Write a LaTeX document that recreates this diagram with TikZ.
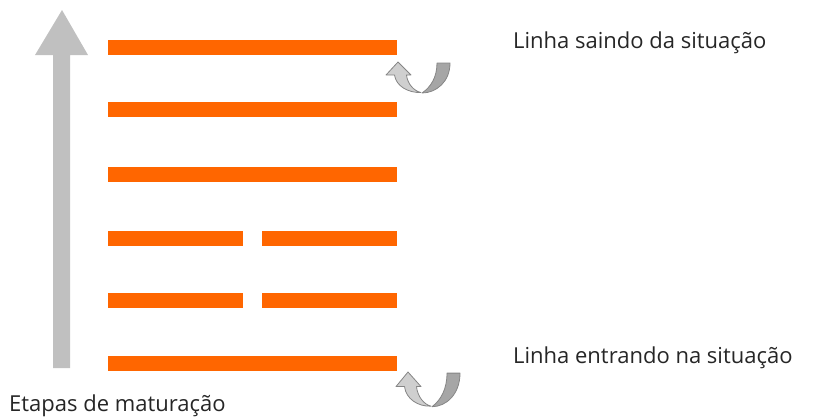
\documentclass[tikz,border=0pt]{standalone}
\usepackage{fontspec}
\setmainfont{Open Sans}
\definecolor{barorange}{HTML}{FF6600}
\definecolor{biggray}{HTML}{C0C0C0}
\definecolor{ulight}{HTML}{CFCFCF}
\definecolor{udark}{HTML}{A6A6A6}
\definecolor{uedge}{HTML}{858585}
\begin{document}
\begin{tikzpicture}[x=1pt,y=-1pt,
  bar/.style={fill=barorange,draw=none,inner sep=0,minimum height=15pt,anchor=west},
  longbar/.style={bar,minimum width=289pt},
  halfbar/.style={bar,minimum width=135pt},
  label/.style={inner sep=0,anchor=base west,font=\fontsize{22}{26}\selectfont,text=black!85},
  uturn/.pic={
    \fill[udark,draw=uedge,line width=0.8pt,line join=round]
      (51,1) -- (64,1) .. controls (64,20) and (50,31) .. (36,31)
      .. controls (45,25) and (51,15) .. (51,1) -- cycle;
    \fill[ulight,draw=uedge,line width=0.8pt,line join=round]
      (0,13) -- (12,0) -- (25,13) -- (20.5,13)
      .. controls (21.5,22) and (28,29) .. (35,30.5)
      .. controls (22,31) and (10,24) .. (8.5,13) -- cycle;
  }]
\useasboundingbox (0,0) rectangle (814,418);
% big arrow
\fill[biggray] (53,368) -- (53,55) -- (35,55) -- (62,10) -- (88,55) -- (70,55) -- (70,368) -- cycle;
% bars
\node[longbar] (b6) at (108,47.5) {};
\node[longbar] (b5) at (108,109.5) {};
\node[longbar] (b4) at (108,174.5) {};
\node[halfbar] (b3l) at (108,238) {};
\node[halfbar] (b3r) at (262,238) {};
\node[halfbar] (b2l) at (108,300.5) {};
\node[halfbar] (b2r) at (262,300.5) {};
\node[longbar] (b1) at (108,363.5) {};
% u-turn arrows
\pic at (386,62) {uturn};
\pic[yscale=1.12] at (396,372) {uturn};
% labels
\node[label] (out) at (513,48) {Linha saindo da situação};
\node[label] (in) at (513,363) {Linha entrando na situação};
\node[label] (steps) at (9,411) {Etapas de maturação};
\end{tikzpicture}
\end{document}
